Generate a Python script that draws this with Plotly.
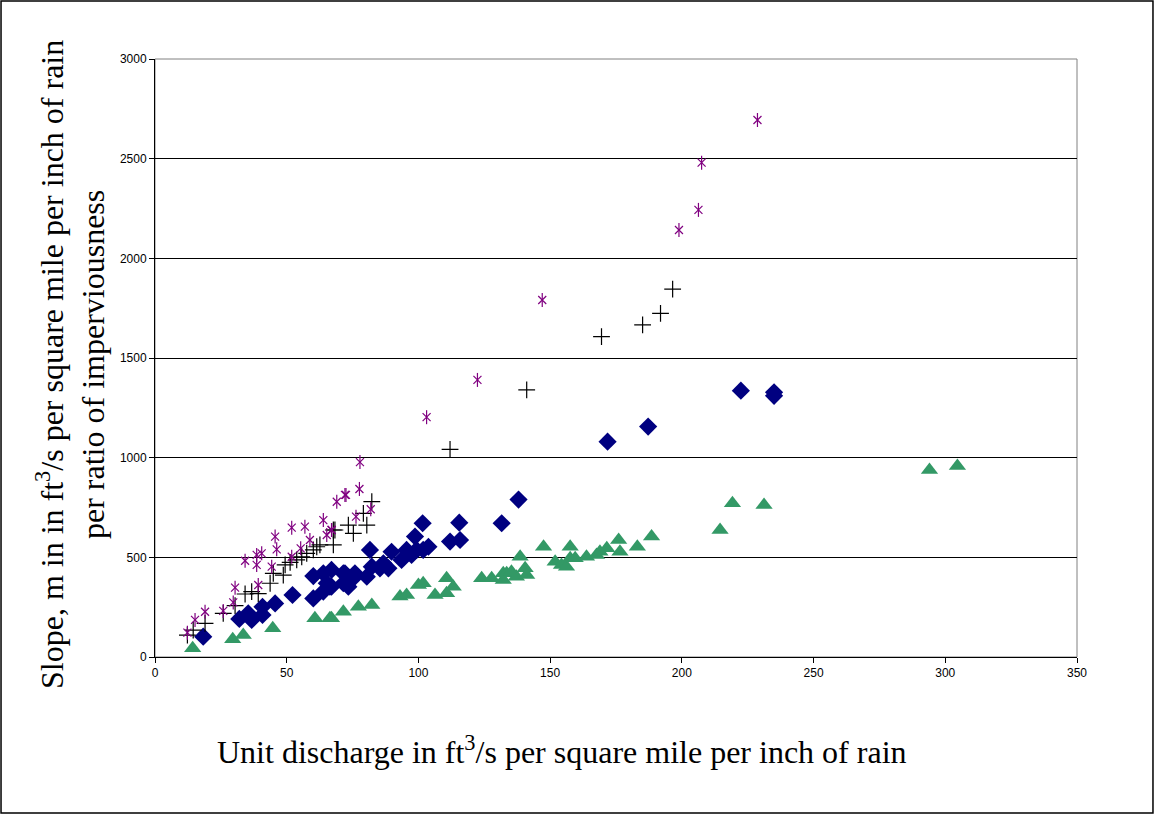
import plotly.graph_objects as go

# Purple asterisks
star_x = [12.3, 15.2, 19.0, 25.9, 29.7, 30.4, 34.2, 38.6, 38.6, 39.2, 40.5, 44.3, 45.6, 46.2,
          51.9, 51.9, 55.3, 56.9, 58.8, 63.9, 65.2, 67.0, 67.1, 69.0, 72.1, 72.5, 76.3, 77.6,
          77.8, 81.9, 103.1, 122.4, 147.0, 198.9, 206.3, 207.5, 228.7]
star_y = [122, 186, 227, 231, 274, 348, 483, 512, 462, 361, 520, 453, 604, 540,
          649, 503, 545, 654, 587, 687, 612, 637, 637, 779, 813, 813, 704, 843,
          978, 741, 1203, 1390, 1791, 2142, 2243, 2480, 2694]

# Black crosses
plus_x = [12.3, 14.5, 19.0, 25.9, 30.4, 34.2, 36.7, 39.2, 43.7, 44.9, 48.7, 49.4, 51.3, 53.8,
          55.7, 57.6, 60.1, 61.4, 62.6, 67.7, 67.7, 68.3, 73.4, 75.3, 79.1, 80.4, 82.3,
          112.0, 141.1, 169.5, 185.1, 191.9, 196.5]
plus_y = [110, 135, 169, 219, 258, 316, 328, 318, 370, 420, 411, 462, 475, 487,
          503, 520, 537, 553, 562, 562, 637, 637, 662, 620, 721, 662, 779,
          1042, 1340, 1607, 1666, 1724, 1846]

# Blue diamonds
dia_x = [18.3, 32.0, 35.4, 36.7, 40.8, 40.8, 45.6, 52.2, 60.1, 60.1, 63.9, 63.9, 65.2, 66.4,
         67.0, 67.0, 71.5, 71.5, 72.1, 73.4, 75.3, 75.9, 80.4, 81.6, 82.3, 85.4, 86.7, 88.6,
         89.8, 93.6, 95.5, 97.4, 98.7, 99.3, 101.6, 101.8, 103.8, 112.0, 115.5, 115.8,
         131.6, 138.0, 171.8, 187.2, 222.4, 235.0, 235.0]
dia_y = [102, 191, 219, 186, 252, 211, 269, 311, 294, 406, 420, 328, 370, 353,
         437, 353, 420, 370, 420, 353, 395, 420, 403, 537, 453, 445, 470, 445,
         528, 487, 537, 512, 604, 537, 671, 537, 553, 579, 674, 587,
         671, 790, 1080, 1156, 1336, 1310, 1328]

# Green triangles
tri_x = [14.3, 29.5, 33.5, 44.7, 60.7, 66.4, 67.0, 71.5, 77.2, 82.3, 93.0, 95.5, 100.0, 101.8,
         106.3, 110.7, 110.7, 113.2, 124.0, 127.8, 132.2, 132.2, 133.5, 135.3, 137.2, 138.6,
         140.5, 141.1, 147.5, 151.9, 154.3, 156.2, 157.6, 157.6, 159.5, 163.8, 167.6, 168.9,
         171.5, 176.0, 176.5, 183.1, 188.5, 214.5, 219.2, 231.2, 294.0, 304.6]
tri_y = [44, 89, 110, 144, 194, 194, 194, 227, 252, 261, 303, 311, 361, 370,
         311, 395, 320, 353, 395, 395, 386, 420, 420, 428, 403, 503,
         445, 411, 553, 478, 462, 453, 553, 495, 495, 503, 512, 528,
         545, 587, 528, 553, 604, 637, 771, 763, 938, 958]

x_ticks = [0, 50, 100, 150, 200, 250, 300, 350]
y_ticks = [0, 500, 1000, 1500, 2000, 2500, 3000]

fig = go.Figure()
fig.add_trace(go.Scatter(x=tri_x, y=tri_y, mode="markers",
                         marker=dict(symbol="triangle-up", size=15, color="#339966")))
fig.add_trace(go.Scatter(x=dia_x, y=dia_y, mode="markers",
                         marker=dict(symbol="diamond", size=14, color="#000080")))
fig.add_trace(go.Scatter(x=plus_x, y=plus_y, mode="markers",
                         marker=dict(symbol="cross-thin-open", size=12, color="black",
                                     line=dict(color="black", width=1.2))))
# asterisk drawn as an X with a vertical bar (Excel-style star marker)
fig.add_trace(go.Scatter(x=star_x, y=star_y, mode="markers",
                         marker=dict(symbol="x-thin-open", size=8, color="#800080",
                                     line=dict(color="#800080", width=1.2))))
fig.add_trace(go.Scatter(x=star_x, y=star_y, mode="markers",
                         marker=dict(symbol="line-ns-open", size=10, color="#800080",
                                     line=dict(color="#800080", width=1.2))))

tickfont = dict(family="Liberation Sans Narrow, Liberation Sans, Arial", size=12, color="black")
serif = "Liberation Serif, Times New Roman, serif"
fig.update_layout(
    width=1155, height=815,
    margin=dict(l=155, r=78, t=59, b=158),
    paper_bgcolor="white", plot_bgcolor="white",
    showlegend=False,
    xaxis=dict(range=[0, 350], tickvals=x_ticks, showgrid=False, zeroline=False,
               showline=True, linecolor="black", linewidth=1,
               ticks="outside", ticklen=5, tickcolor="black", tickfont=tickfont),
    yaxis=dict(range=[0, 3000], tickvals=y_ticks, showgrid=True, gridcolor="black",
               gridwidth=1, zeroline=False,
               showline=True, linecolor="black", linewidth=1,
               ticks="outside", ticklen=5, tickcolor="black", tickfont=tickfont),
    shapes=[
        dict(type="rect", xref="paper", yref="paper", x0=0, x1=1, y0=0, y1=1,
             line=dict(color="#808080", width=1), layer="below"),
        dict(type="rect", xref="paper", yref="paper", x0=-0.167, x1=1.0824,
             y0=-0.261, y1=1.097, line=dict(color="black", width=1.5)),
    ],
    annotations=[
        dict(text="Unit discharge in ft<sup>3</sup>/s per square mile per inch of rain",
             xref="paper", yref="paper", x=(562 - 155) / 922, y=(657 - 750) / 598,
             xanchor="center", yanchor="middle", showarrow=False,
             font=dict(family=serif, size=32, color="black")),
        dict(text="Slope, m in in ft<sup>3</sup>/s per square mile per inch of rain",
             xref="paper", yref="paper", x=(50 - 155) / 922, y=(657 - 365) / 598,
             xanchor="center", yanchor="middle", showarrow=False, textangle=-90,
             font=dict(family=serif, size=32, color="black")),
        dict(text="per ratio of imperviousness",
             xref="paper", yref="paper", x=(93 - 155) / 922, y=(657 - 365) / 598,
             xanchor="center", yanchor="middle", showarrow=False, textangle=-90,
             font=dict(family=serif, size=32, color="black")),
    ],
)

fig.write_html("out.html")
